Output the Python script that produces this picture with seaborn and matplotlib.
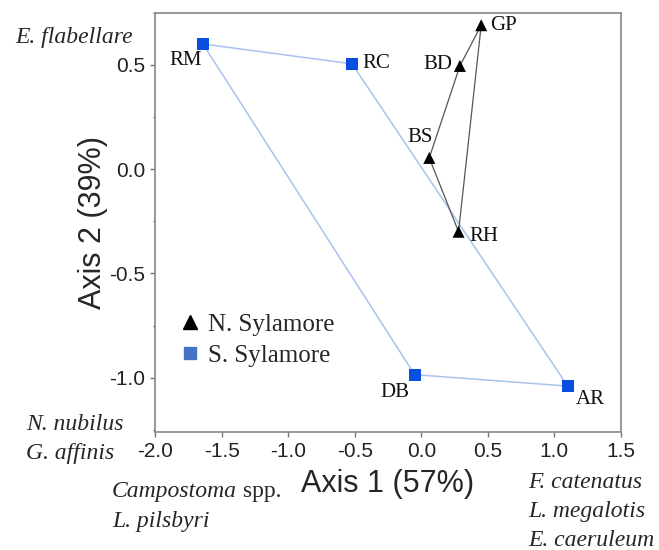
import pandas as pd
import seaborn as sns
import matplotlib.pyplot as plt
from matplotlib.lines import Line2D
from matplotlib.ticker import MultipleLocator

# site scores (ordination axes)
sites = ['RM', 'RC', 'AR', 'DB', 'GP', 'BD', 'BS', 'RH']
river = ['S. Sylamore'] * 4 + ['N. Sylamore'] * 4
axis1 = [-1.64, -0.52, 1.10, -0.05, 0.45, 0.29, 0.06, 0.28]
axis2 = [0.60, 0.505, -1.04, -0.985, 0.69, 0.495, 0.054, -0.30]

# species names shown around the plot
species_top_left = ['E. flabellare']
species_left = ['N. nubilus', 'G. affinis']
species_bottom = ['Campostoma', 'L. pilsbyri']
species_right = ['F. catenatus', 'L. megalotis', 'E. caeruleum']

df = pd.DataFrame({'site': sites, 'river': river, 'axis1': axis1, 'axis2': axis2})

sns.set_style('ticks')
plt.rcParams['font.family'] = ['Liberation Sans', 'DejaVu Sans']

serif = 'Liberation Serif'
blue = '#0a50e0'
fig, ax = plt.subplots(figsize=(6.59, 5.5), dpi=100)
fig.subplots_adjust(left=155 / 659, right=621 / 659, top=1 - 12.7 / 550, bottom=1 - 432 / 550)

# hull lines for each river
south = df[df.river == 'S. Sylamore']
north = df[df.river == 'N. Sylamore']
ax.plot(list(south.axis1) + [south.axis1.iloc[0]], list(south.axis2) + [south.axis2.iloc[0]],
        color='#a9c3ee', lw=1.1, zorder=1)
ax.plot(list(north.axis1) + [north.axis1.iloc[0]], list(north.axis2) + [north.axis2.iloc[0]],
        color='#555555', lw=0.9, zorder=1)

sns.scatterplot(data=df, x='axis1', y='axis2', hue='river', style='river',
                palette={'N. Sylamore': 'black', 'S. Sylamore': blue},
                markers={'N. Sylamore': '^', 'S. Sylamore': 's'},
                s=75, edgecolor='none', legend=False, zorder=3, ax=ax)

# label offsets in pixels
offsets = {'RM': (-1, -17, 'right'), 'RC': (10, 0, 'left'), 'GP': (9, 0, 'left'),
           'BD': (-8, 1, 'right'), 'BS': (3, 20, 'right'), 'RH': (11, -5, 'left'),
           'DB': (-5, -18, 'right'), 'AR': (8, -13, 'left')}
for _, r in df.iterrows():
    dx, dy, ha = offsets[r.site]
    ax.annotate(r.site, (r.axis1, r.axis2), xytext=(dx, dy), textcoords='offset pixels',
                ha=ha, va='center', fontsize=15, family=serif, color='#111111')

ax.set_xlim(-2.0, 1.5)
ax.set_ylim(-1.26, 0.75)
ax.xaxis.set_major_locator(MultipleLocator(0.5))
ax.yaxis.set_major_locator(MultipleLocator(0.5))
ax.yaxis.set_minor_locator(MultipleLocator(0.25))
ax.set_xticks([-2.0, -1.5, -1.0, -0.5, 0.0, 0.5, 1.0, 1.5])
ax.set_xticklabels(['-2.0', '-1.5', '-1.0', '-0.5', '0.0', '0.5', '1.0', '1.5'])
ax.set_yticks([-1.0, -0.5, 0.0, 0.5])
ax.set_yticklabels(['-1.0', '-0.5', '0.0', '0.5'])
ax.tick_params(which='major', length=3.6, width=1, color='#777777', labelsize=15, labelcolor='#222222')
ax.tick_params(which='minor', length=1.8, width=1, color='#777777')
for sp in ax.spines.values():
    sp.set_color('#888888')
    sp.set_linewidth(1.2)

ax.set_xlabel('Axis 1 (57%)', fontsize=22, labelpad=6)
ax.set_ylabel('Axis 2 (39%)', fontsize=22, labelpad=1)

handles = [Line2D([], [], marker='^', color='black', ls='None', markersize=10),
           Line2D([], [], marker='s', color='#4472c4', ls='None', markersize=9)]
ax.legend(handles, ['N. Sylamore', 'S. Sylamore'], loc='center left', bbox_to_anchor=(0, 0.219),
          frameon=False, handlelength=1, handletextpad=0.2, labelspacing=0.35,
          prop={'family': serif, 'size': 18})

# species annotations around the axes
def ftext(x, y, s, **kw):
    return fig.text(x / 659, 1 - y / 550, s, fontsize=17, family=serif, va='center', **kw)

ftext(15, 37, species_top_left[0], style='italic')
for y, s in zip([424, 453], species_left):
    ftext(26, y, s, style='italic')
camp = ftext(112, 492, species_bottom[0], style='italic')
ftext(112, 522, species_bottom[1], style='italic')
for y, s in zip([483, 512, 540], species_right):
    ftext(528, y, s, style='italic')

fig.canvas.draw()
bb = camp.get_window_extent()
fig.text(bb.x1 / fig.bbox.width, 1 - 492 / 550, ' spp.', fontsize=17, family=serif, va='center')

fig.savefig('out.png', dpi=100)
